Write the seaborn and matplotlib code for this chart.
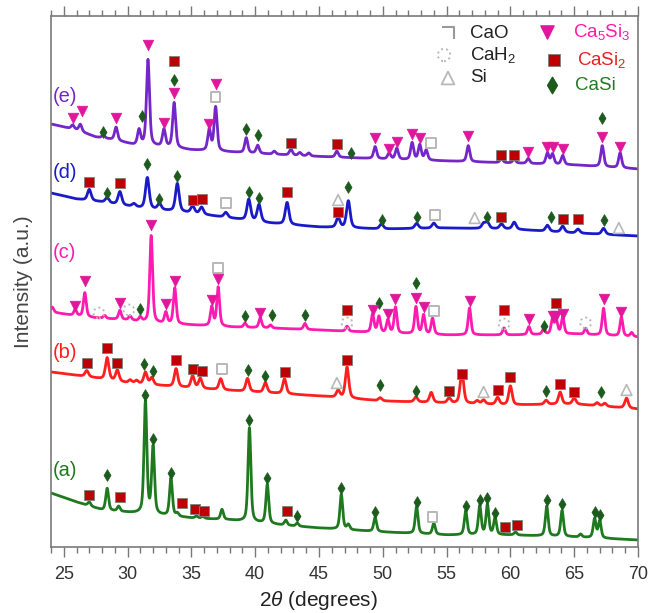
import numpy as np
import seaborn as sns
import matplotlib
matplotlib.use("Agg")
import matplotlib.pyplot as plt
from matplotlib.path import Path
from matplotlib.ticker import MultipleLocator

# ---- XRD patterns: peak positions (deg), peak heights and baseline knots ----
a_pos = [27.0, 28.4, 29.3, 31.4, 32.0, 33.4, 33.9, 35.4, 35.9, 37.4, 39.55, 40.95, 42.4, 43.3, 46.75,
         47.3, 49.4, 52.65, 54.0, 56.5, 57.6, 58.2, 58.8, 60.4, 62.85, 64.05, 65.5, 66.6, 67.0]
a_height = [4, 22, 5, 112, 67, 38, 3, 2, 2, 10, 94, 39, 5, 3, 35,
            5, 14, 27, 11, 24, 29, 30, 17, 3, 30, 26, 3, 19, 17]
a_knot_x = [24, 26, 28, 30.5, 35, 38, 42, 45, 50, 55, 60, 65, 70]
a_knot_y = [54, 45, 37, 34, 29, 27, 22, 19, 15, 12, 12, 10, 7]

b_pos = [26.8, 28.4, 29.2, 30.2, 30.7, 31.4, 31.9, 33.8, 35.1, 35.7, 37.3, 39.4, 40.8, 42.3, 46.5, 47.2,
         49.8, 52.6, 53.8, 55.2, 56.2, 57.4, 57.9, 59.0, 60.0, 62.8, 63.9, 65.0, 66.8, 67.4, 69.1]
b_height = [6, 22, 11, 3, 3, 12, 7, 18, 12, 10, 11, 13, 10, 15, 7, 31,
            3, 5, 10, 5, 33, 3, 4, 7, 19, 4, 12, 6, 3, 3, 10]
b_knot_x = [24, 27, 30, 35, 40, 45, 50, 55, 60, 65, 70]
b_knot_y = [175, 170, 164, 159, 155, 151, 146, 144, 142, 143, 138]

c_pos = [24.1, 25.9, 26.65, 28.2, 29.4, 30.2, 31.0, 31.85, 33.0, 33.7, 36.6, 37.1, 39.2, 40.4, 41.2, 43.9,
         47.2, 49.2, 49.7, 50.4, 51.0, 52.6, 53.2, 53.9, 56.8, 59.5, 61.45, 62.6, 63.3, 63.6, 64.1, 65.9,
         67.3, 68.7, 69.5]
c_height = [5, 6, 24, 3, 9, 4, 4, 87, 11, 36, 19, 39, 4, 10, 3, 6,
            5, 18, 16, 13, 26, 27, 19, 16, 27, 7, 8, 5, 15, 13, 17, 6,
            27, 19, 4]
c_knot_x = [24, 25.5, 27.5, 30, 32, 35, 38, 41, 45, 50, 55, 60, 65, 70]
c_knot_y = [235, 232, 229, 227, 224, 222, 220, 219, 217, 214, 212, 212, 213, 210]

d_pos = [27.0, 28.4, 29.4, 30.5, 31.55, 32.5, 33.9, 35.1, 35.8, 37.7, 39.5, 40.3, 42.5, 46.5, 47.3,
         49.9, 52.65, 54.0, 57.9, 58.2, 59.3, 60.3, 62.9, 64.1, 65.3, 67.3]
d_height = [11, 5, 13, 3, 31, 6, 28, 7, 7, 5, 21, 17, 22, 10, 27,
            5, 5, 5, 5, 6, 5, 7, 6, 6, 4, 6]
d_knot_x = [24, 26, 28, 31, 35, 38, 41, 45, 50, 55, 60, 65, 70]
d_knot_y = [354, 348, 345, 339, 334, 329, 324, 320, 318, 319, 318, 314, 311]

e_pos = [25.7, 26.3, 28.1, 29.1, 30.9, 31.6, 32.85, 33.65, 36.4, 36.9, 39.3, 40.2, 41.5, 42.8, 43.5, 44.2,
         46.4, 49.4, 50.5, 51.1, 52.3, 52.9, 53.4, 56.7, 59.3, 60.3, 61.4, 62.9, 63.3, 64.1, 67.2, 68.6]
e_height = [4, 7, 3, 13, 15, 86, 17, 45, 21, 44, 15, 8, 3, 6, 3, 3,
            6, 12, 6, 11, 17, 15, 10, 16, 4, 4, 5, 11, 10, 9, 21, 15]
e_knot_x = [24, 26, 27.5, 29, 30.5, 33, 35, 38, 41, 44, 50, 55, 60, 65, 70]
e_knot_y = [423, 417, 410, 407, 402, 400, 397, 395, 393, 391, 388, 386, 384, 382, 378]

# ---- phase markers (all patterns together) ----
casi_x = [28.4, 31.4, 32.0, 33.4, 39.55, 40.95, 43.3, 46.75, 49.4, 52.65, 56.5, 57.6, 58.2, 58.8, 62.85, 64.05, 66.6, 67.0,
          31.3, 32.0, 39.4, 40.8, 49.8, 52.6, 62.8, 67.1,
          31.0, 39.2, 41.3, 43.9, 49.7, 52.6, 62.6,
          28.4, 31.55, 32.5, 33.9, 39.5, 40.3, 47.3, 49.9, 52.65, 58.15, 63.2, 67.3,
          28.1, 31.1, 33.65, 39.3, 40.2, 47.5, 67.2]
casi_y = [72, 152, 108, 74, 127, 69, 31, 59, 35, 45, 41, 47, 49, 34, 47, 43, 35, 32,
          183, 176, 177, 171, 162, 156, 156, 155,
          238, 231, 232, 232, 244, 264, 221,
          354, 383, 348, 371, 355, 349, 360, 327, 330, 330, 330, 327,
          415, 431, 467, 418, 412, 394, 429]

casi2_x = [27.0, 29.4, 34.3, 35.3, 36.0, 42.5, 59.6, 60.5,
           26.8, 28.4, 29.2, 33.8, 35.1, 35.8, 42.3, 47.2, 55.2, 56.2, 59.0, 60.0, 63.9, 65.0,
           47.2, 59.5, 63.6,
           27.0, 29.4, 35.1, 35.8, 42.5, 46.5, 59.3, 64.1, 65.3,
           33.65, 42.8, 46.4, 59.3, 60.3]
casi2_y = [52, 50, 44, 38, 36, 36, 20, 22,
           184, 199, 184, 187, 178, 176, 175, 187, 156, 173, 157, 170, 163, 155,
           237, 237, 244,
           365, 364, 347, 348, 355, 335, 330, 328, 328,
           486, 404, 403, 392, 392]

ca5si3_x = [25.9, 26.65, 29.4, 31.85, 33.0, 33.7, 36.6, 37.1, 40.4, 49.2, 50.4, 50.96, 52.6, 53.2, 56.8,
            61.45, 63.3, 63.6, 64.1, 67.3, 68.7,
            25.7, 26.4, 29.1, 31.6, 32.85, 33.65, 36.4, 36.9, 49.4, 50.5, 51.1, 52.3, 52.9, 56.7,
            61.4, 62.9, 63.3, 64.1, 67.2, 68.6]
ca5si3_y = [241, 266, 244, 322, 243, 266, 247, 268, 234, 237, 233, 248, 249, 240, 246,
            228, 231, 231, 233, 248, 235,
            429, 436, 429, 502, 424, 454, 423, 463, 409, 398, 405, 413, 409, 411,
            395, 400, 400, 398, 410, 400]

cao_x = [53.9, 37.4, 37.1, 54.0, 37.7, 54.1, 36.9, 53.8]
cao_y = [30, 178, 279, 236, 344, 332, 450, 404]

cah2_x = [27.75, 30.1, 47.2, 59.5, 65.9]
cah2_y = [234, 237, 224, 223, 224]

si_x = [46.4, 57.9, 69.1, 46.5, 57.2, 68.5]
si_y = [164, 155, 157, 347, 329, 319]

trace_names = ["(a)", "(b)", "(c)", "(d)", "(e)"]
trace_colors = ["#1f7a1f", "#ff1f1f", "#ff1ab0", "#1a1ac8", "#7426c9"]
trace_label_y = [77, 195, 294, 375, 451]

sns.set_theme(style="white")
plt.rcParams["font.family"] = ["Liberation Sans", "DejaVu Sans"]
plt.rcParams["mathtext.fontset"] = "custom"
plt.rcParams["mathtext.rm"] = "Liberation Sans"
plt.rcParams["mathtext.it"] = "Liberation Sans:italic"

fig = plt.figure(figsize=(6.5, 6.13), dpi=100)
ax = fig.add_axes([51 / 650, 66 / 613, 587 / 650, 531 / 613])

x = np.linspace(24, 70, 4601)


def pattern(pos, height, kx, ky, w):
    # pseudo-Voigt peaks on a baseline
    y = np.interp(x, kx, ky)
    for p, h in zip(pos, height):
        u = (x - p) / w
        y = y + h * (0.5 / (1 + u ** 2) + 0.5 * np.exp(-np.log(2) * u ** 2))
    return y


patterns = [
    pattern(a_pos, a_height, a_knot_x, a_knot_y, 0.13),
    pattern(b_pos, b_height, b_knot_x, b_knot_y, 0.16),
    pattern(c_pos, c_height, c_knot_x, c_knot_y, 0.13),
    pattern(d_pos, d_height, d_knot_x, d_knot_y, 0.17),
    pattern(e_pos, e_height, e_knot_x, e_knot_y, 0.14),
]

for yy, col, name, ly in zip(patterns, trace_colors, trace_names, trace_label_y):
    sns.lineplot(x=x, y=yy, color=col, linewidth=2.0, ax=ax, zorder=2)
    ax.text(24.1, ly, name, color=col, fontsize=14.5, ha="left", va="center")

gray = "#b8b8b8"
sns.scatterplot(x=casi_x, y=casi_y, marker="d", s=36, color="#1d5a1d", edgecolor="#1d5a1d",
                linewidth=0.5, ax=ax, zorder=5)
sns.scatterplot(x=casi2_x, y=casi2_y, marker="s", s=52, color="#bf0000", edgecolor="#808080",
                linewidth=0.6, ax=ax, zorder=5)
sns.scatterplot(x=ca5si3_x, y=ca5si3_y, marker="v", s=58, color="#e0179c", edgecolor="#e0179c",
                linewidth=0.5, ax=ax, zorder=5)
ax.scatter(cao_x, cao_y, marker="s", s=48, facecolors="none", edgecolors=gray, linewidths=1.4, zorder=4)
ax.scatter(cah2_x, cah2_y, marker="o", s=60, facecolors="none", edgecolors=gray, linewidths=1.4,
           linestyle=":", zorder=4)
ax.scatter(si_x, si_y, marker="^", s=60, facecolors="none", edgecolors=gray, linewidths=1.2, zorder=4)

# legend (drawn by hand, two columns)
cao_mark = Path([(-1, 1), (1, 1), (1, -1)], [Path.MOVETO, Path.LINETO, Path.LINETO])
leg = [
    (448, 33, cao_mark, dict(s=64, facecolors="none", edgecolors="#999999", linewidths=1.5),
     470, "CaO", "#222222"),
    (444, 55, "o", dict(s=80, facecolors="none", edgecolors=gray, linewidths=1.4, linestyle=":"),
     470, "CaH$_2$", "#222222"),
    (448, 78, "^", dict(s=85, facecolors="none", edgecolors=gray, linewidths=1.3),
     470, "Si", "#222222"),
    (547, 32, "v", dict(s=90, color="#e0179c"), 573, "Ca$_5$Si$_3$", "#ff1aa8"),
    (554, 60, "s", dict(s=75, color="#bf0000", edgecolors="#808080", linewidths=0.6), 577, "CaSi$_2$", "#e82020"),
    (552, 85, "d", dict(s=70, color="#1d5a1d"), 575, "CaSi", "#237a23"),
]
for mx, my, mk, kw, tx, txt, tc in leg:
    ax.scatter([(mx - 51) / 587], [(547 - my) / 531], marker=mk, transform=ax.transAxes,
               clip_on=False, zorder=6, **kw)
    ax.text((tx - 51) / 587, (547 - my) / 531, txt, color=tc, fontsize=13.5, ha="left", va="center",
            transform=ax.transAxes)

ax.set_xlim(24, 70)
ax.set_ylim(0, 531)
ax.set_yticks([])
ax.xaxis.set_major_locator(MultipleLocator(5))
ax.xaxis.set_minor_locator(MultipleLocator(1))
ax.tick_params(axis="x", which="both", direction="out", bottom=True, top=True, color="#777777",
               width=1.0, labelsize=13, labelcolor="#333333", pad=7)
ax.tick_params(axis="x", which="major", length=7)
ax.tick_params(axis="x", which="minor", length=4)
for sp in ax.spines.values():
    sp.set_color("#7a7a7a")
    sp.set_linewidth(1.2)

ax.set_xlabel("2$\\theta$ (degrees)", fontsize=15, color="#222222")
ax.xaxis.set_label_coords(0.455, -0.08)
ax.set_ylabel("Intensity (a.u.)", fontsize=15, color="#444444")
ax.yaxis.set_label_coords(-0.031, 0.5)

fig.savefig("out.png", dpi=100)
